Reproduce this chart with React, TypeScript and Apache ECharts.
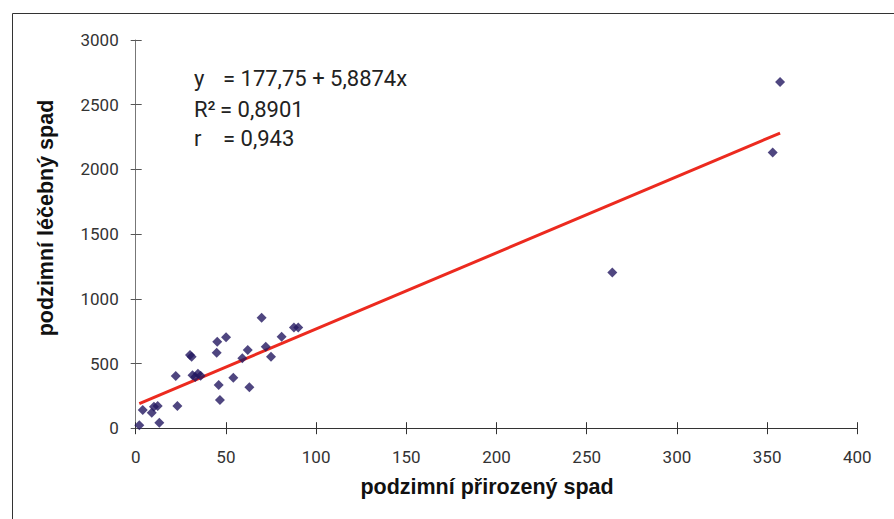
import React, { useEffect, useRef } from "react";
import * as echarts from "echarts";

const xValues = [2.0, 3.9, 8.9, 10.1, 12.2, 13.1, 22.2, 23.1, 30.1, 31.0, 31.5, 33.0, 34.5, 36.0, 45.2, 50.1, 44.9, 46.0, 46.7, 54.1, 59.1, 62.1, 63.0, 69.8, 72.1, 75.0, 80.9, 87.7, 90.1, 264.2, 353.1, 357.2];
const yValues = [22, 141, 120, 166, 171, 42, 403, 171, 565, 552, 410, 395, 420, 405, 668, 702, 583, 334, 218, 390, 540, 604, 316, 853, 630, 552, 707, 779, 779, 1204, 2131, 2676];
const intercept = 177.75;
const slope = 5.8874;
const xTicks = [0, 50, 100, 150, 200, 250, 300, 350, 400];
const yTicks = [0, 500, 1000, 1500, 2000, 2500, 3000];
const eqSymbols = ["y", "R²", "r"];
const eqValues = ["= 177,75 + 5,8874x", "= 0,8901", "= 0,943"];
const xTitle = "podzimní přirozený spad";
const yTitle = "podzimní léčebný spad";

export default function App() {
  const ref = useRef<HTMLDivElement>(null);
  useEffect(() => {
    if (!ref.current) return;
    const chart = echarts.init(ref.current, null, { renderer: "svg" });
    const pts = xValues.map((x, i) => [x, yValues[i]]);
    const xMin = Math.min(...xValues);
    const xMax = Math.max(...xValues);
    const line = [
      [xMin, intercept + slope * xMin],
      [xMax, intercept + slope * xMax],
    ];
    const labelFont = { fontFamily: "Roboto", fontSize: 17, color: "#333", formatter: (v: number) => String(v) };
    const baseX = {
      type: "value" as const,
      min: xTicks[0],
      max: xTicks[xTicks.length - 1],
      interval: 50,
      splitLine: { show: false },
    };
    const baseY = {
      type: "value" as const,
      min: yTicks[0],
      max: yTicks[yTicks.length - 1],
      interval: 500,
      splitLine: { show: false },
    };
    const eqGraphics: any[] = [];
    const eqY = [78, 109, 138];
    eqSymbols.forEach((s, i) => {
      eqGraphics.push({
        type: "text",
        x: 194,
        y: eqY[i],
        style: { text: s, fontFamily: "Roboto", fontSize: 22, fill: "#222", textVerticalAlign: "middle" },
      });
      eqGraphics.push({
        type: "text",
        x: i === 1 ? 220 : 223,
        y: eqY[i],
        style: { text: eqValues[i], fontFamily: "Roboto", fontSize: 22, fill: "#222", textVerticalAlign: "middle" },
      });
    });
    chart.setOption({
      animation: false,
      backgroundColor: "#fff",
      grid: { left: 135.7, right: 36.7, top: 40, bottom: 90.8 },
      xAxis: [
        {
          ...baseX,
          axisLine: { show: true, lineStyle: { color: "#333", width: 1 } },
          axisTick: { show: true, length: 6, lineStyle: { color: "#333" } },
          axisLabel: { ...labelFont, margin: 20 },
        },
        {
          ...baseX,
          position: "bottom",
          axisLine: { show: false },
          axisTick: { show: true, inside: true, length: 6, lineStyle: { color: "#333" } },
          axisLabel: { show: false },
        },
      ],
      yAxis: [
        {
          ...baseY,
          axisLine: { show: true, lineStyle: { color: "#777", width: 1 } },
          axisTick: { show: true, length: 5, lineStyle: { color: "#555" } },
          axisLabel: { ...labelFont, margin: 17 },
        },
        {
          ...baseY,
          position: "left",
          axisLine: { show: false },
          axisTick: { show: true, inside: true, length: 6, lineStyle: { color: "#555" } },
          axisLabel: { show: false },
        },
      ],
      series: [
        {
          type: "line",
          data: line,
          symbol: "none",
          lineStyle: { color: "#ec2a1f", width: 3 },
          z: 2,
        },
        {
          type: "scatter",
          data: pts,
          symbol: "diamond",
          symbolSize: 10,
          itemStyle: { color: "#231860" },
          z: 3,
        },
      ],
      graphic: [
        {
          type: "rect",
          shape: { x: 12.5, y: 13.5, width: 900, height: 520 },
          style: { fill: "none", stroke: "#333", lineWidth: 1 },
          silent: true,
        },
        {
          type: "text",
          x: 487,
          y: 487,
          style: {
            text: xTitle,
            fontFamily: "Liberation Sans",
            fontWeight: "bold",
            fontSize: 21.5,
            fill: "#111",
            textAlign: "center",
            textVerticalAlign: "middle",
          },
        },
        {
          type: "text",
          x: 46,
          y: 218,
          rotation: Math.PI / 2,
          style: {
            text: yTitle,
            fontFamily: "Liberation Sans",
            fontWeight: "bold",
            fontSize: 21.5,
            fill: "#111",
            textAlign: "center",
            textVerticalAlign: "middle",
          },
        },
        ...eqGraphics,
      ],
    });
    return () => chart.dispose();
  }, []);
  return (
    <div
      ref={ref}
      style={{ position: "fixed", left: 0, top: 0, width: 894, height: 519, background: "#fff" }}
    />
  );
}
